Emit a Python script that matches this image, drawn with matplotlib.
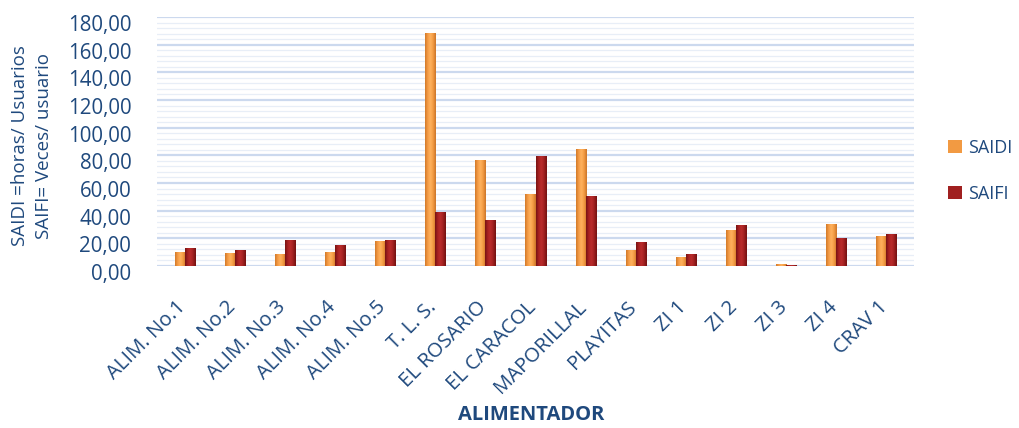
import numpy as np
import matplotlib
matplotlib.use("Agg")
import matplotlib.pyplot as plt
from matplotlib.patches import Patch
from matplotlib.colors import LinearSegmentedColormap
import matplotlib.transforms as mtransforms

# Reliability indices per feeder
alimentadores = ["ALIM. No.1", "ALIM. No.2", "ALIM. No.3", "ALIM. No.4", "ALIM. No.5",
                 "T. L. S.", "EL ROSARIO", "EL CARACOL", "MAPORILLAL", "PLAYITAS",
                 "ZI 1", "ZI 2", "ZI 3", "ZI 4", "CRAV 1"]
saidi = [10.0, 9.0, 8.0, 10.0, 17.5, 168.0, 76.5, 52.0, 84.5, 11.0,
         6.5, 25.5, 1.0, 30.0, 21.0]
saifi = [13.0, 11.5, 18.5, 14.5, 18.5, 39.0, 33.0, 79.0, 50.0, 17.0,
         8.5, 29.0, 0.6, 20.0, 22.5]
yticks = [0, 20, 40, 60, 80, 100, 120, 140, 160, 180]
ytick_labels = ["0,00", "20,00", "40,00", "60,00", "80,00", "100,00",
                "120,00", "140,00", "160,00", "180,00"]

TEXT = "#1F497D"
plt.rcParams["font.family"] = ["Open Sans", "DejaVu Sans"]

fig = plt.figure(figsize=(10.19, 4.28), dpi=100)
ax = fig.add_axes([157 / 1019, 1 - 266 / 428, 757 / 1019, 249 / 428])

# Cylinder-like shading across each bar
cm_saidi = LinearSegmentedColormap.from_list(
    "saidi", ["#D07828", "#F59C46", "#FFB35F", "#F29A42", "#C97428"])
cm_saifi = LinearSegmentedColormap.from_list(
    "saifi", ["#761212", "#A82222", "#BA2C2C", "#A02020", "#701010"])
grad = np.linspace(0, 1, 64).reshape(1, -1)

width = 0.2
x = np.arange(len(alimentadores))
for xi, v in zip(x - width / 2, saidi):
    ax.imshow(grad, cmap=cm_saidi, aspect="auto", interpolation="bicubic",
              extent=(xi - width / 2, xi + width / 2, 0, v), zorder=3)
for xi, v in zip(x + width / 2, saifi):
    ax.imshow(grad, cmap=cm_saifi, aspect="auto", interpolation="bicubic",
              extent=(xi - width / 2, xi + width / 2, 0, v), zorder=3)

ax.set_xlim(-0.55, len(alimentadores) - 0.45)
ax.set_ylim(0, 180)
ax.set_aspect("auto")

# Back wall grid
ax.set_yticks(yticks)
ax.set_yticklabels(ytick_labels, fontsize=14.8, color=TEXT)
ax.set_yticks(np.arange(0, 181, 4), minor=True)
ax.grid(axis="y", which="major", color="#CCD9EE", linewidth=1.6, zorder=0)
ax.grid(axis="y", which="minor", color="#E8EEF7", linewidth=0.9, zorder=0)
ax.set_facecolor("white")
for s in ax.spines.values():
    s.set_visible(False)
ax.tick_params(axis="both", which="both", length=0)
ax.tick_params(axis="y", pad=18.5)
yshift = mtransforms.ScaledTranslation(0, -6 / 100, fig.dpi_scale_trans)
for lab in ax.get_yticklabels():
    lab.set_transform(lab.get_transform() + yshift)

ax.set_xticks(x)
ax.set_xticklabels(alimentadores, fontsize=14.6, color=TEXT, rotation=45,
                   ha="right", va="top", rotation_mode="anchor")
ax.tick_params(axis="x", pad=24)
xshift = mtransforms.ScaledTranslation(-9 / 100, 2 / 100, fig.dpi_scale_trans)
for lab in ax.get_xticklabels():
    lab.set_transform(lab.get_transform() + xshift)

fig.text(0.031, 1 - 146 / 428, "SAIDI =horas/ Usuarios\nSAIFI= Veces/ usuario",
         rotation=90, ha="center", va="center", multialignment="center",
         fontsize=13.5, color=TEXT, linespacing=1.42)
fig.text(531 / 1019, 1 - 415 / 428, "ALIMENTADOR", ha="center", va="center",
         fontsize=14.5, fontweight="bold", color=TEXT)

handles = [Patch(facecolor="#F29A42", edgecolor="none", label="SAIDI"),
           Patch(facecolor="#A02020", edgecolor="none", label="SAIFI")]
fig.legend(handles=handles, loc="center left", bbox_to_anchor=(948 / 1019, 1 - 171 / 428),
           frameon=False, fontsize=13, labelcolor=TEXT, handlelength=0.75,
           handleheight=0.75, handletextpad=0.35, labelspacing=1.55,
           borderpad=0, borderaxespad=0)

fig.savefig("out.png", dpi=100)
